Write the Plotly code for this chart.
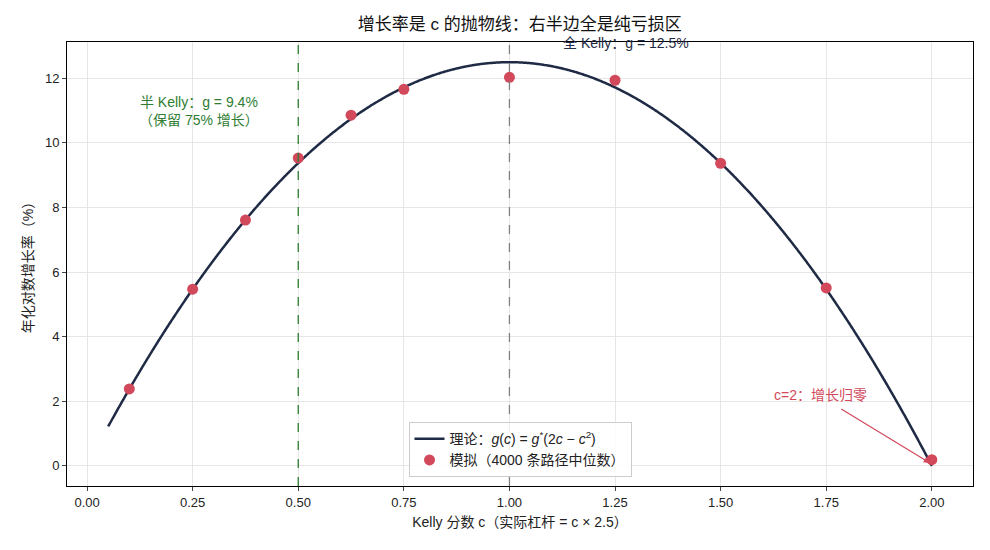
import numpy as np
import plotly.graph_objects as go

g_star = 12.5
sim_c = [0.1, 0.25, 0.375, 0.5, 0.625, 0.75, 1.0, 1.25, 1.5, 1.75, 2.0]
sim_g = [2.38, 5.47, 7.61, 9.53, 10.86, 11.66, 12.03, 11.94, 9.37, 5.51, 0.19]
x_ticks = [0.0, 0.25, 0.5, 0.75, 1.0, 1.25, 1.5, 1.75, 2.0]
x_tick_labels = ["0.00", "0.25", "0.50", "0.75", "1.00", "1.25", "1.50", "1.75", "2.00"]
y_ticks = [0, 2, 4, 6, 8, 10, 12]

c_curve = np.linspace(0.05, 2.0, 600)
g_curve = g_star * (2 * c_curve - c_curve ** 2)

FONT = "Liberation Sans, Noto Sans CJK SC, sans-serif"
NAVY = "#1f2a44"
RED = "#d1495b"
GREEN = "#2e7d32"

fig = go.Figure()
fig.add_trace(go.Scatter(
    x=c_curve, y=g_curve, mode="lines",
    line=dict(color=NAVY, width=2.5, shape="spline"),
    name="理论：<i>g</i>(<i>c</i>) = <i>g</i><sup>*</sup>(2<i>c</i> − <i>c</i><sup>2</sup>)",
))
fig.add_trace(go.Scatter(
    x=sim_c, y=sim_g, mode="markers",
    marker=dict(color=RED, size=11),
    name="模拟（4000 条路径中位数）",
))

fig.add_vline(x=0.5, line=dict(color=GREEN, width=1.3, dash="dash"))
fig.add_vline(x=1.0, line=dict(color="gray", width=1.3, dash="dash"))

fig.add_annotation(x=0.265, y=11.0, text="半 Kelly：g = 9.4%<br>（保留 75% 增长）",
                   showarrow=False, font=dict(color=GREEN, size=14, family=FONT), align="center")
fig.add_annotation(x=1.277, xref="x", y=0.997, yref="paper", text="全 Kelly：g = 12.5%",
                   showarrow=False, font=dict(color=NAVY, size=14, family=FONT), yanchor="middle")
fig.add_annotation(x=1.995, y=0.09, ax=1.782, ay=1.79, axref="x", ayref="y",
                   text="", showarrow=True, arrowhead=2, arrowsize=1,
                   arrowwidth=1.2, arrowcolor=RED, standoff=0)
fig.add_annotation(x=1.737, y=2.2, text="c=2：增长归零", showarrow=False,
                   font=dict(color=RED, size=14, family=FONT))

fig.update_layout(
    width=990, height=550,
    margin=dict(l=67, r=17, t=42, b=64),
    paper_bgcolor="white", plot_bgcolor="white",
    font=dict(family=FONT, size=13, color="#222"),
    title=dict(text="增长率是 c 的抛物线：右半边全是纯亏损区", x=0.525, xanchor="center",
               y=0.957, yanchor="middle", font=dict(size=17, color="#111")),
    legend=dict(x=0.5, y=0.02, xanchor="center", yanchor="bottom",
                bgcolor="rgba(255,255,255,0.85)", bordercolor="#ccc", borderwidth=1,
                font=dict(size=14)),
    showlegend=True,
)
fig.update_xaxes(range=[-0.0475, 2.0975], tickvals=x_ticks, ticktext=x_tick_labels,
                 showgrid=True, gridcolor="#e6e6e6", showline=True, linecolor="black",
                 mirror=True, ticks="outside", ticklen=4, zeroline=False,
                 title=dict(text="Kelly 分数 c（实际杠杆 = c × 2.5）", font=dict(size=14), standoff=8))
fig.update_yaxes(range=[-0.625, 13.125], tickvals=y_ticks,
                 showgrid=True, gridcolor="#e6e6e6", showline=True, linecolor="black",
                 mirror=True, ticks="outside", ticklen=4, zeroline=False,
                 title=dict(text="年化对数增长率（%）", font=dict(size=14), standoff=8))

fig.write_html("out.html")
